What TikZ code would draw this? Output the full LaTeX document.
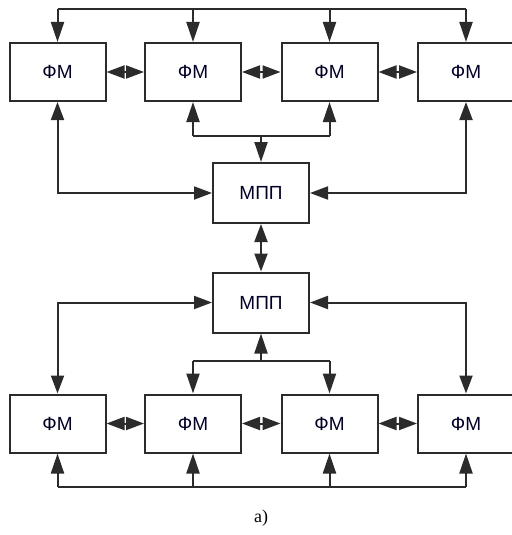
\documentclass[tikz,border=0pt]{standalone}
\usepackage{fontspec}
\setmainfont{Liberation Serif}
\newfontfamily\labelfont{Liberation Sans}
\usetikzlibrary{arrows.meta}
\definecolor{ink}{HTML}{2B2B2B}
\begin{document}
\begin{tikzpicture}[x=1pt,y=-1pt,
  wire/.style={draw=ink, line width=2pt},
  tip/.style={-{Triangle[length=20pt,width=13pt]}},
  twotip/.style={{Triangle[length=18pt,width=13pt]}-{Triangle[length=18pt,width=13pt]}},
  fmbox/.style={draw=ink, line width=2pt, fill=white, minimum width=96pt, minimum height=58pt,
    inner sep=0pt, font=\labelfont\fontsize{19}{19}\selectfont, text=black!85!blue},
  mppbox/.style={draw=ink, line width=2pt, fill=white, minimum width=96pt, minimum height=60pt,
    inner sep=0pt, font=\labelfont\fontsize{19}{19}\selectfont, text=black!85!blue}]
\useasboundingbox (0,0) rectangle (511,535);

% upper row of function modules
\node[fmbox] (t1) at (57.5,72) {ФМ};
\node[fmbox] (t2) at (193,72) {ФМ};
\node[fmbox] (t3) at (329.5,72) {ФМ};
\node[fmbox] (t4) at (466,72) {ФМ};

% exchange processors
\node[mppbox] (m1) at (261,193) {МПП};
\node[mppbox] (m2) at (261,302.5) {МПП};

% lower row of function modules
\node[fmbox] (b1) at (57.5,423.5) {ФМ};
\node[fmbox] (b2) at (193,423.5) {ФМ};
\node[fmbox] (b3) at (329.5,423.5) {ФМ};
\node[fmbox] (b4) at (466,423.5) {ФМ};

% bus junctions
\coordinate (topbus) at (57.5,9);
\coordinate (tjoin) at (261,135.5);
\coordinate (bjoin) at (261,361);
\coordinate (botbus) at (57.5,487);

% upper bus feeding every module
\draw[wire] (t1.north |- topbus) -- (t4.north |- topbus);
\foreach \n in {t1,t2,t3,t4}
  \draw[wire,tip] (\n.north |- topbus) -- (\n.north);

% neighbour links
\draw[wire,twotip] (t1.east) -- (t2.west);
\draw[wire,twotip] (t2.east) -- (t3.west);
\draw[wire,twotip] (t3.east) -- (t4.west);
\draw[wire,twotip] (b1.east) -- (b2.west);
\draw[wire,twotip] (b2.east) -- (b3.west);
\draw[wire,twotip] (b3.east) -- (b4.west);

% upper modules to the first processor
\draw[wire] (t2.south |- tjoin) -- (t3.south |- tjoin);
\draw[wire,tip] (t2.south |- tjoin) -- (t2.south);
\draw[wire,tip] (t3.south |- tjoin) -- (t3.south);
\draw[wire,tip] (tjoin) -- (m1.north);
\draw[wire,twotip] (t1.south) -- (t1.south |- m1.west) -- (m1.west);
\draw[wire,twotip] (t4.south) -- (t4.south |- m1.east) -- (m1.east);

% processor to processor
\draw[wire,twotip] (m1.south) -- (m2.north);

% second processor to lower modules
\draw[wire,twotip] (b1.north) -- (b1.north |- m2.west) -- (m2.west);
\draw[wire,twotip] (b4.north) -- (b4.north |- m2.east) -- (m2.east);
\draw[wire] (b2.north |- bjoin) -- (b3.north |- bjoin);
\draw[wire,tip] (bjoin) -- (m2.south);
\draw[wire,tip] (b2.north |- bjoin) -- (b2.north);
\draw[wire,tip] (b3.north |- bjoin) -- (b3.north);

% lower bus
\draw[wire] (b1.south |- botbus) -- (b4.south |- botbus);
\foreach \n in {b1,b2,b3,b4}
  \draw[wire,tip] (\n.south |- botbus) -- (\n.south);

\node[font=\fontsize{18}{18}\selectfont] (cap) at (261,518) {a)};
\end{tikzpicture}
\end{document}
